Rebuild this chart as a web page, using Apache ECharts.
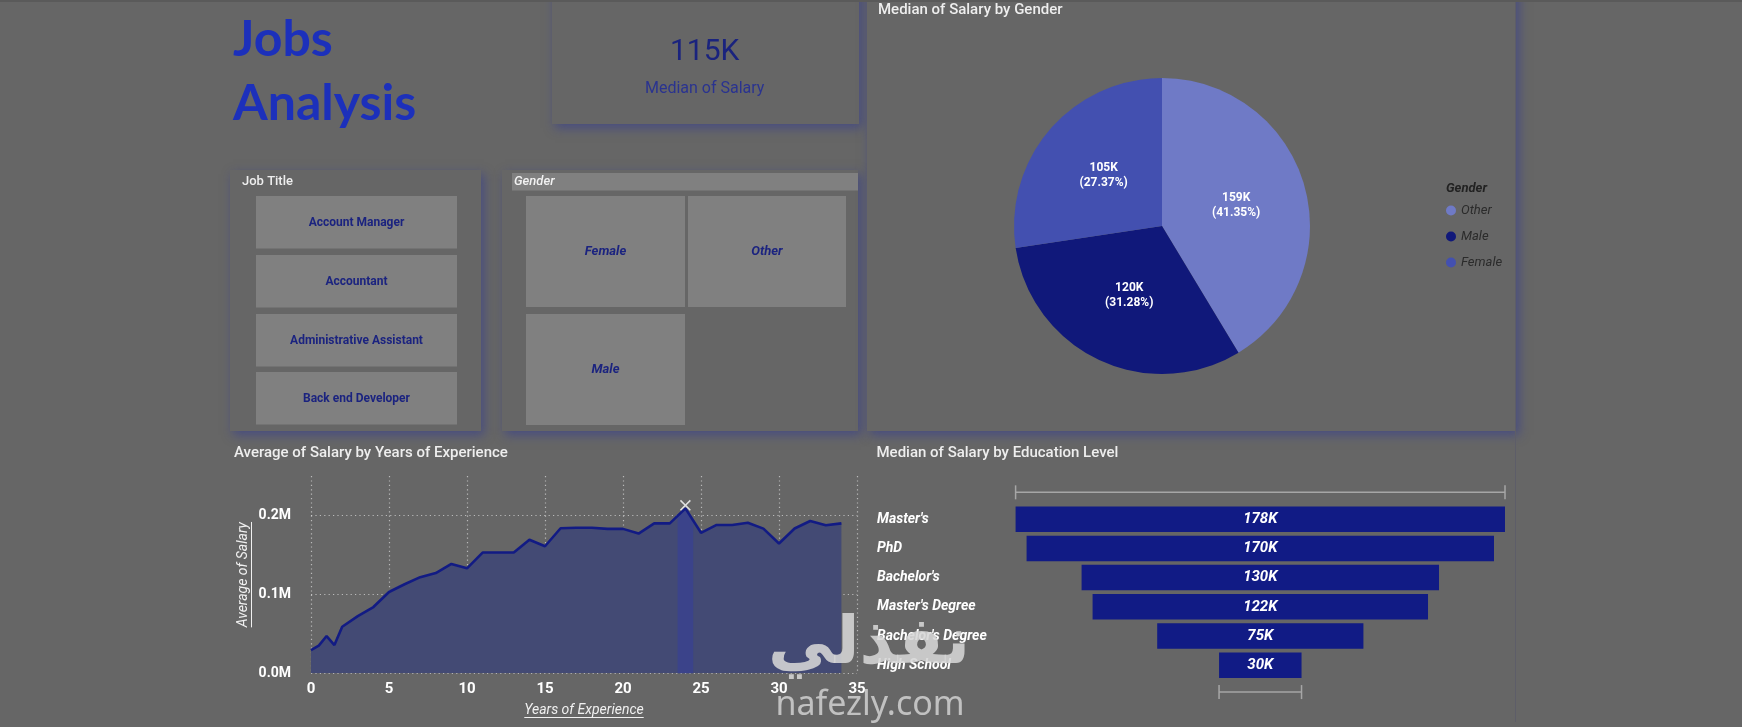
<!DOCTYPE html>
<html>
<head>
<meta charset="utf-8">
<script src="https://cdn.jsdelivr.net/npm/echarts@6/dist/echarts.min.js"></script>
<style>
html,body{margin:0;padding:0;background:#666666;overflow:hidden;}
#c{width:1742px;height:727px;}
</style>
</head>
<body>
<div id="c"></div>
<script>
// ---------- data ----------
const years = [0, 0.5, 1, 1.5, 2, 3, 4, 5, 6, 7, 8, 9, 10, 11, 12, 13, 14, 15, 16, 17, 18, 19, 20, 21, 22, 23, 24, 25, 26, 27, 28, 29, 30, 31, 32, 33, 34];
const avgSalary = [29500, 35000, 47200, 35800, 59000, 72500, 84000, 103000, 112800, 121800, 127000, 138500, 133000, 153000, 153000, 153000, 169300, 161000, 183800, 184500, 184500, 183000, 183000, 177000, 190000, 190000, 209000, 178000, 188000, 188000, 190700, 183300, 164500, 183500, 193000, 187700, 190000];
const highlightYear = 24;
const xTicks = {min: 0, max: 35, step: 5};
const yTicks = {min: 0, max: 250000, step: 100000};

const genders = ['Other', 'Male', 'Female'];
const genderMedian = [158800, 120100, 105100];

const eduLevels = ["Master's", 'PhD', "Bachelor's", "Master's Degree", "Bachelor's Degree", 'High School'];
const eduMedian = [178000, 170000, 130000, 122000, 75000, 30000];

const kpiMedian = 115000;
const jobTitles = ['Account Manager', 'Accountant', 'Administrative Assistant', 'Back end Developer'];
const genderButtons = ['Female', 'Other', 'Male'];

// ---------- helpers ----------
const fmtK = v => Math.round(v / 1000) + 'K';
const FONT = 'Roboto, "Noto Sans", sans-serif';
const ctx = document.createElement('canvas').getContext('2d');
function textW(t, f) { ctx.font = f; return ctx.measureText(t).width; }

const peakIdx = years.indexOf(highlightYear);
const eduMax = Math.max(...eduMedian);
const eduMin = Math.min(...eduMedian);

// ---------- layout ----------
const lineGrid = {left: 311, right: 1742 - 857, top: 476, bottom: 727 - 673.3};
const funGrid = {left: 1015.6, right: 1742 - 1505, top: 504.6, bottom: 727 - 679.8};
const xNameGap = 30, yNameGap = 61;

const navy = '#1b237f';
const panelStyle = {fill: '#666666', shadowBlur: 10, shadowColor: 'rgba(45,55,150,0.55)', shadowOffsetX: 3, shadowOffsetY: 4};
function panel(x, y, w, h) { return {type: 'rect', z: -5, shape: {x, y, width: w, height: h}, style: panelStyle, silent: true}; }
function txt(x, y, text, font, fill, align, z) {
  return {type: 'text', z: z || 5, x, y, silent: true,
    style: {text, font, fill, align: align || 'left', verticalAlign: 'middle', textAlign: align || 'left', textVerticalAlign: 'middle'}};
}
function btn(x, y, w, h) { return {type: 'rect', z: 1, shape: {x, y, width: w, height: h}, style: {fill: '#808080'}, silent: true}; }

const graphics = [
  panel(552, -20, 307, 144),
  panel(230, 170, 251, 261),
  panel(502, 170, 356, 261),
  panel(867, -20, 649, 451),
  {type: 'line', z: 6, shape: {x1: 1515.5, y1: 0, x2: 1515.5, y2: 722}, style: {stroke: '#5d5d68', lineWidth: 1}, silent: true},
  {type: 'line', z: 6, shape: {x1: 0, y1: 1, x2: 1742, y2: 1}, style: {stroke: '#5a5a5a', lineWidth: 2}, silent: true},
  txt(233, 40, 'Jobs', 'bold 50px Lato, Roboto, sans-serif', '#1c30bb'),
  txt(233, 104, 'Analysis', 'bold 50px Lato, Roboto, sans-serif', '#1c30bb'),
  txt(704.7, 52, fmtK(kpiMedian), '30px ' + FONT, '#1a237e', 'center'),
  txt(704.7, 89, 'Median of Salary', '16px ' + FONT, '#2a3390', 'center'),
  txt(242, 181.7, 'Job Title', '500 13px ' + FONT, '#eeeeee'),
  {type: 'rect', z: 1, shape: {x: 512, y: 173, width: 346, height: 17.5}, style: {fill: '#808080'}, silent: true},
  txt(514, 182, 'Gender', 'italic 500 13px ' + FONT, '#f2f2f2'),
  txt(878, 10.7, 'Median of Salary by Gender', '500 15px ' + FONT, '#eeeeee'),
  txt(234, 453.3, 'Average of Salary by Years of Experience', '500 15px ' + FONT, '#eeeeee'),
  txt(876.5, 453.3, 'Median of Salary by Education Level', '500 15px ' + FONT, '#eeeeee'),
  txt(1446, 189, 'Gender', 'italic bold 13px ' + FONT, '#222222')
];
const jobY = [196, 255, 314, 372];
jobTitles.forEach((t, i) => {
  graphics.push(btn(256, jobY[i], 201, 52.5));
  graphics.push(txt(356.5, jobY[i] + 26.5, t, 'bold 12px ' + FONT, navy, 'center'));
});
const gBox = [[526, 196, 159, 111], [688, 196, 158, 111], [526, 314, 159, 111]];
genderButtons.forEach((t, i) => {
  const b = gBox[i];
  graphics.push(btn(b[0], b[1], b[2], b[3]));
  graphics.push(txt(b[0] + b[2] / 2, b[1] + b[3] / 2, t, 'italic bold 13px ' + FONT, navy, 'center'));
});
// axis-name underlines
const xNameFont = 'italic 14px ' + FONT;
const wx = textW('Years of Experience', xNameFont);
const xMid = (lineGrid.left + 857) / 2;
graphics.push({type: 'line', z: 6, silent: true, shape: {x1: xMid - wx / 2, y1: 717.5, x2: xMid + wx / 2, y2: 717.5}, style: {stroke: '#f0f0f0', lineWidth: 1}});
const wy = textW('Average of Salary', xNameFont);
const yMid = (476 + 673.3) / 2;
const ux = lineGrid.left - yNameGap + 1.5;
graphics.push({type: 'line', z: 6, silent: true, shape: {x1: ux, y1: yMid - wy / 2, x2: ux, y2: yMid + wy / 2}, style: {stroke: '#f0f0f0', lineWidth: 1}});
// watermark
graphics.push(txt(869, 646, 'نفذلي', 'bold 66px "DejaVu Sans", sans-serif', 'rgba(214,214,214,0.88)', 'center', 50));
graphics.push(txt(870, 705, 'nafezly.com', '34px "Noto Sans", sans-serif', 'rgba(198,198,198,0.95)', 'center', 50));

const pts = years.map((y, i) => [y, avgSalary[i]]);
const gridLine = {color: 'rgba(255,255,255,0.55)', type: [1.2, 3.2], width: 1.2};

const option = {
  backgroundColor: '#666666',
  animation: false,
  textStyle: {fontFamily: FONT},
  grid: [lineGrid, funGrid],
  legend: {
    data: genders, orient: 'vertical', left: 1446, top: 204, padding: 0,
    icon: 'circle', itemWidth: 10, itemHeight: 10, itemGap: 13, selectedMode: false,
    textStyle: {color: '#2b2b2b', fontStyle: 'italic', fontSize: 13, fontFamily: FONT}
  },
  xAxis: [
    {type: 'value', gridIndex: 0, min: xTicks.min, max: xTicks.max, interval: xTicks.step,
      axisLine: {show: false}, axisTick: {show: false},
      splitLine: {show: true, lineStyle: gridLine},
      axisLabel: {color: '#ffffff', fontWeight: 'bold', fontSize: 15, margin: 8},
      name: 'Years of Experience', nameLocation: 'middle', nameGap: xNameGap,
      nameTextStyle: {color: '#f0f0f0', fontStyle: 'italic', fontSize: 14}},
    {type: 'value', gridIndex: 1, min: 0, max: eduMax, show: false}
  ],
  yAxis: [
    {type: 'value', gridIndex: 0, min: yTicks.min, max: yTicks.max, interval: yTicks.step,
      axisLine: {show: false}, axisTick: {show: false},
      splitLine: {show: true, showMaxLine: false, lineStyle: gridLine},
      axisLabel: {color: '#ffffff', fontWeight: 'bold', fontSize: 14, margin: 20, showMaxLabel: false,
        formatter: v => (v / 1e6).toFixed(1) + 'M'},
      name: 'Average of Salary', nameLocation: 'middle', nameGap: yNameGap, nameRotate: 90,
      nameTextStyle: {color: '#f0f0f0', fontStyle: 'italic', fontSize: 14}},
    {type: 'category', gridIndex: 1, data: eduLevels, inverse: true,
      axisLine: {show: false}, axisTick: {show: false}, splitLine: {show: false},
      axisLabel: {align: 'left', margin: funGrid.left - 877, color: '#ffffff', fontWeight: 'bold', fontStyle: 'italic', fontSize: 14}}
  ],
  series: [
    {type: 'line', xAxisIndex: 0, yAxisIndex: 0, data: pts, symbol: 'none', silent: true, z: 1,
      lineStyle: {width: 0}, areaStyle: {color: '#434a74', opacity: 1}},
    {type: 'custom', xAxisIndex: 0, yAxisIndex: 0, z: 2, silent: true,
      data: [[years[peakIdx], avgSalary[peakIdx]]],
      renderItem: (params, api) => {
        const k = peakIdx;
        const xl = (years[k - 1] + years[k]) / 2, xr = (years[k + 1] + years[k]) / 2;
        const yl = (avgSalary[k - 1] + avgSalary[k]) / 2, yr = (avgSalary[k + 1] + avgSalary[k]) / 2;
        const p = [[xl, 0], [xl, yl], [years[k], avgSalary[k]], [xr, yr], [xr, 0]].map(q => api.coord(q));
        return {type: 'polygon', shape: {points: p}, style: {fill: '#3b438a'}};
      }},
    {type: 'line', xAxisIndex: 0, yAxisIndex: 0, data: pts, symbol: 'none', silent: true, z: 3,
      lineStyle: {color: '#121b84', width: 2.6}},
    {type: 'scatter', xAxisIndex: 0, yAxisIndex: 0, z: 4, silent: true,
      data: [[years[peakIdx], avgSalary[peakIdx]]],
      symbol: 'path://M1,0L5,4L9,0L10,1L6,5L10,9L9,10L5,6L1,10L0,9L4,5L0,1Z',
      symbolSize: 11, symbolOffset: [0, -3], itemStyle: {color: '#ffffff'}},
    {type: 'pie', center: [1162, 226], radius: 148, startAngle: 90, clockwise: true, silent: true,
      data: genders.map((g, i) => ({name: g, value: genderMedian[i]})),
      color: ['#6f7ac6', '#10187a', '#4350b0'],
      label: {show: true, position: 'inside', color: '#ffffff', fontWeight: 'bold', fontSize: 12, lineHeight: 15,
        formatter: p => fmtK(p.value) + '\n(' + p.percent.toFixed(2) + '%)'},
      labelLine: {show: false}, emphasis: {disabled: true}},
    {type: 'bar', xAxisIndex: 1, yAxisIndex: 1, stack: 'f', silent: true,
      data: eduMedian.map(v => (eduMax - v) / 2), itemStyle: {color: 'rgba(0,0,0,0)'}, barWidth: 25.5},
    {type: 'bar', xAxisIndex: 1, yAxisIndex: 1, stack: 'f', silent: true,
      data: eduMedian, itemStyle: {color: '#111b85'}, barWidth: 25.5,
      label: {show: true, position: 'inside', color: '#ffffff', fontWeight: 'bold', fontStyle: 'italic', fontSize: 15,
        formatter: p => fmtK(p.value)}},
    {type: 'custom', xAxisIndex: 1, yAxisIndex: 1, silent: true, z: 5,
      encode: {x: [0, 1], y: 2},
      data: [[0, eduMax, 0, -1], [(eduMax - eduMin) / 2, (eduMax + eduMin) / 2, eduLevels.length - 1, 1]],
      renderItem: (params, api) => {
        const a = api.coord([api.value(0), api.value(2)]);
        const b = api.coord([api.value(1), api.value(2)]);
        const band = api.size([0, 1])[1];
        const y = a[1] + api.value(3) * band * 0.92;
        const st = {stroke: '#a6a6a6', lineWidth: 1.5};
        return {type: 'group', children: [
          {type: 'line', shape: {x1: a[0], y1: y, x2: b[0], y2: y}, style: st},
          {type: 'line', shape: {x1: a[0], y1: y - 7, x2: a[0], y2: y + 7}, style: st},
          {type: 'line', shape: {x1: b[0], y1: y - 7, x2: b[0], y2: y + 7}, style: st}
        ]};
      }}
  ],
  graphic: {elements: graphics}
};

const chart = echarts.init(document.getElementById('c'), null, {renderer: 'canvas', width: 1742, height: 727});
chart.setOption(option);
</script>
</body>
</html>
